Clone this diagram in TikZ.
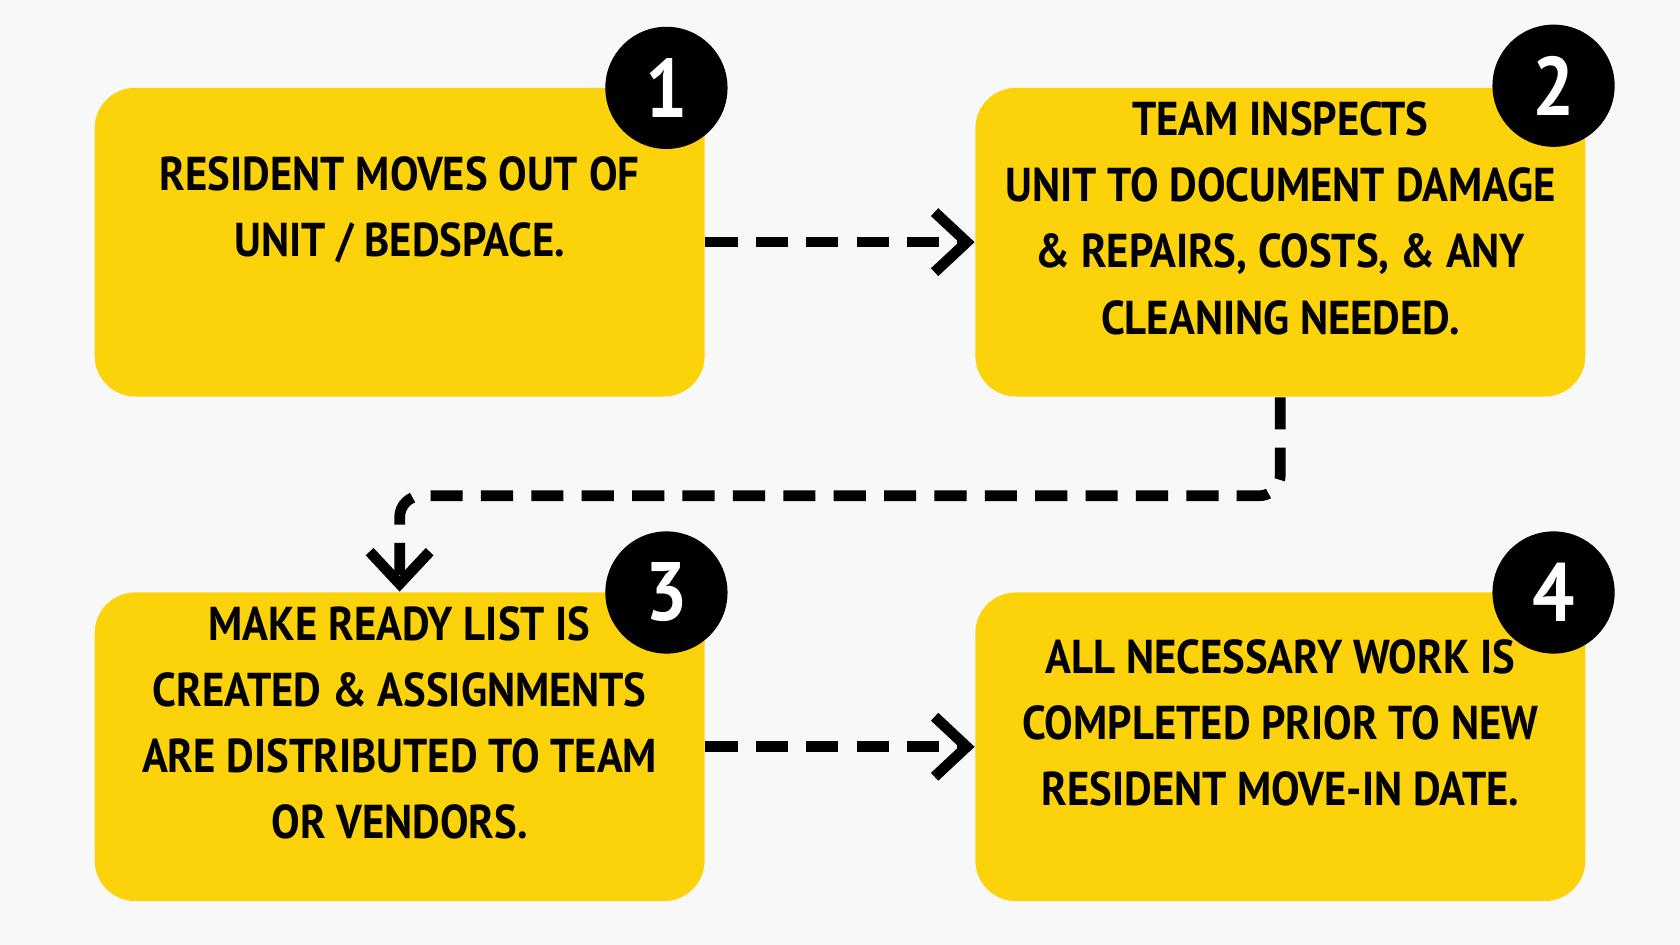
\documentclass[tikz,border=0pt]{standalone}
\usepackage{fontspec}
\setmainfont{PT Sans}[FakeStretch=0.9]
\usetikzlibrary{arrows.meta}
\definecolor{stepyellow}{HTML}{FCD20A}
\definecolor{pagebg}{HTML}{F8F8F8}
\tikzset{
  stepbox/.style={fill=stepyellow,rounded corners=0.38cm,minimum width=5.69cm,minimum height=2.88cm,
    align=center,font=\fontsize{12.6}{17.6}\selectfont\bfseries,inner sep=0pt},
  badge/.style={circle,fill=black,text=white,minimum size=1.14cm,inner sep=0pt,
    font=\fontsize{22}{22}\selectfont\bfseries},
  flow/.style={line width=1mm,dash pattern=on 3mm off 1.7mm,-{Straight Barb[length=3mm,width=5.6mm]}}
}
\begin{document}
\begin{tikzpicture}[x=0.01cm,y=-0.01cm]
\fill[pagebg] (0,0) rectangle (1568,882);
\node[stepbox] (s1) at (373,226) {RESIDENT MOVES OUT OF\\UNIT / BEDSPACE.\\[-4pt]\strut};
\node[stepbox] (s2) at (1195,226) {TEAM INSPECTS\\UNIT TO DOCUMENT DAMAGE\\\& REPAIRS, COSTS, \& ANY\\CLEANING NEEDED.\\[-10pt]\strut};
\node[stepbox] (s3) at (373,697) {MAKE READY LIST IS\\CREATED \& ASSIGNMENTS\\ARE DISTRIBUTED TO TEAM\\OR VENDORS.\\[-10pt]\strut};
\node[stepbox] (s4) at (1195,697) {ALL NECESSARY WORK IS\\COMPLETED PRIOR TO NEW\\RESIDENT MOVE-IN DATE.\\[-10pt]\strut};
\node[badge] (b1) at (622,82) {1};
\node[badge] (b2) at (1450,80) {2};
\node[badge] (b3) at (622,553) {3};
\node[badge] (b4) at (1450,553) {4};
\draw[flow] (s1.east) -- (s2.west);
\draw[flow] (s3.east) -- (s4.west);
\draw[flow,rounded corners=0.2cm] (s2.south) -- ++(0,92) -| (s3.north);
\end{tikzpicture}
\end{document}
